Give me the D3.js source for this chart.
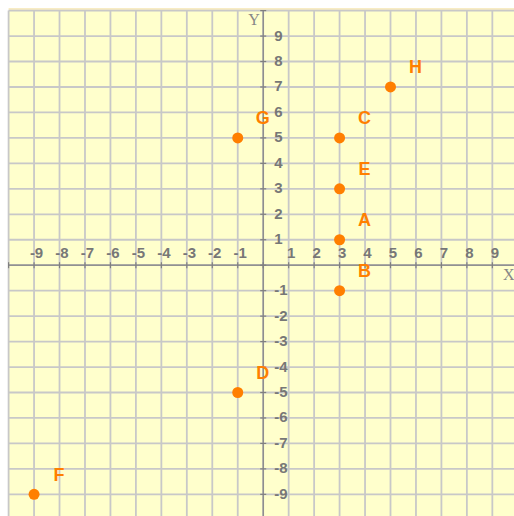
<!DOCTYPE html>
<html>
<head>
<meta charset="utf-8">
<script src="https://cdn.jsdelivr.net/npm/d3@7"></script>
<style>
  body { margin: 0; background: #fff; }
  svg { display: block; }
</style>
</head>
<body>
<svg id="chart0"></svg>
<script>
// points on the plane
var point_names = ['A', 'B', 'C', 'D', 'E', 'F', 'G', 'H'];
var point_x = [3, 3, 3, -1, 3, -9, -1, 5];
var point_y = [1, -1, 5, -5, 3, -9, 5, 7];

var grid_values = d3.range(-10, 11);
var tick_values = [-9, -8, -7, -6, -5, -4, -3, -2, -1, 1, 2, 3, 4, 5, 6, 7, 8, 9];

var width = 514;
var height = 516;
var unit = 25.46;
var origin = {'x': 263.2, 'y': 265.2};

var x_conv = d3.scaleLinear()
	.domain([-10, 10])
	.range([origin.x - 10 * unit, origin.x + 10 * unit]);

var y_conv = d3.scaleLinear()
	.domain([10, -10])
	.range([origin.y - 10 * unit, origin.y + 10 * unit]);

var chart = d3.select('#chart0')
	.attr('width', width)
	.attr('height', height);

// background
chart.append('rect')
	.attr('x', x_conv(-10))
	.attr('y', y_conv(10))
	.attr('width', x_conv(10) - x_conv(-10))
	.attr('height', y_conv(-10) - y_conv(10))
	.attr('fill', '#ffffcc');

chart.append('line')
	.attr('x1', x_conv(-10)).attr('x2', width)
	.attr('y1', y_conv(10) - 1.5).attr('y2', y_conv(10) - 1.5)
	.attr('stroke', '#f6e6b0')
	.attr('stroke-width', 1.5);

// grid
chart.selectAll('line.vgrid')
	.data(grid_values).enter()
	.append('line')
	.attr('class', 'vgrid')
	.attr('x1', function(d) { return x_conv(d); })
	.attr('x2', function(d) { return x_conv(d); })
	.attr('y1', y_conv(10))
	.attr('y2', y_conv(-10))
	.attr('stroke', '#c8c8c8')
	.attr('stroke-width', 1.8);

chart.selectAll('line.hgrid')
	.data(grid_values).enter()
	.append('line')
	.attr('class', 'hgrid')
	.attr('x1', x_conv(-10))
	.attr('x2', x_conv(10))
	.attr('y1', function(d) { return y_conv(d); })
	.attr('y2', function(d) { return y_conv(d); })
	.attr('stroke', '#c8c8c8')
	.attr('stroke-width', 1.8);

// axes
var axis_color = '#7f7f7f';

chart.append('line')
	.attr('x1', x_conv(-10)).attr('x2', x_conv(10))
	.attr('y1', y_conv(0)).attr('y2', y_conv(0))
	.attr('stroke', axis_color).attr('stroke-width', 1.2);

chart.append('line')
	.attr('x1', x_conv(0)).attr('x2', x_conv(0))
	.attr('y1', y_conv(10)).attr('y2', y_conv(-10))
	.attr('stroke', axis_color).attr('stroke-width', 1.2);

chart.selectAll('line.xtick')
	.data(grid_values).enter()
	.append('line')
	.attr('x1', function(d) { return x_conv(d); })
	.attr('x2', function(d) { return x_conv(d); })
	.attr('y1', y_conv(0) - 3)
	.attr('y2', y_conv(0) + 3)
	.attr('stroke', axis_color).attr('stroke-width', 1.2);

chart.selectAll('line.ytick')
	.data(grid_values).enter()
	.append('line')
	.attr('x1', x_conv(0) - 3)
	.attr('x2', x_conv(0) + 3)
	.attr('y1', function(d) { return y_conv(d); })
	.attr('y2', function(d) { return y_conv(d); })
	.attr('stroke', axis_color).attr('stroke-width', 1.2);

// tick labels
chart.selectAll('text.xlabel')
	.data(tick_values).enter()
	.append('text')
	.attr('x', function(d) { return x_conv(d) + 2.5; })
	.attr('y', y_conv(0) - 7)
	.attr('text-anchor', 'middle')
	.attr('font-family', 'Liberation Sans, Arial, sans-serif')
	.attr('font-weight', 'bold')
	.attr('font-size', 15)
	.attr('fill', '#777')
	.text(function(d) { return d; });

chart.selectAll('text.ylabel')
	.data(tick_values).enter()
	.append('text')
	.attr('x', x_conv(0) + 11)
	.attr('y', function(d) { return y_conv(d) + 4.5; })
	.attr('text-anchor', 'start')
	.attr('font-family', 'Liberation Sans, Arial, sans-serif')
	.attr('font-weight', 'bold')
	.attr('font-size', 15)
	.attr('fill', '#777')
	.text(function(d) { return d; });

// axis names
chart.append('text')
	.attr('x', 503).attr('y', y_conv(0) + 15)
	.attr('font-family', 'Liberation Serif, Times New Roman, serif')
	.attr('font-size', 16)
	.attr('fill', '#888')
	.text('X');

chart.append('text')
	.attr('x', x_conv(0) - 15).attr('y', 25)
	.attr('font-family', 'Liberation Serif, Times New Roman, serif')
	.attr('font-size', 16)
	.attr('fill', '#888')
	.text('Y');

// points
var orange = '#ff7f00';

chart.selectAll('circle.pt')
	.data(point_names).enter()
	.append('circle')
	.attr('cx', function(d, i) { return x_conv(point_x[i]); })
	.attr('cy', function(d, i) { return y_conv(point_y[i]); })
	.attr('r', 5.5)
	.attr('fill', orange);

chart.selectAll('text.pt')
	.data(point_names).enter()
	.append('text')
	.attr('x', function(d, i) { return x_conv(point_x[i]) + 25; })
	.attr('y', function(d, i) { return y_conv(point_y[i]) - 13.5; })
	.attr('text-anchor', 'middle')
	.attr('font-family', 'Liberation Sans, Arial, sans-serif')
	.attr('font-weight', 'bold')
	.attr('font-size', 18)
	.attr('fill', orange)
	.text(function(d) { return d; });
</script>
</body>
</html>
